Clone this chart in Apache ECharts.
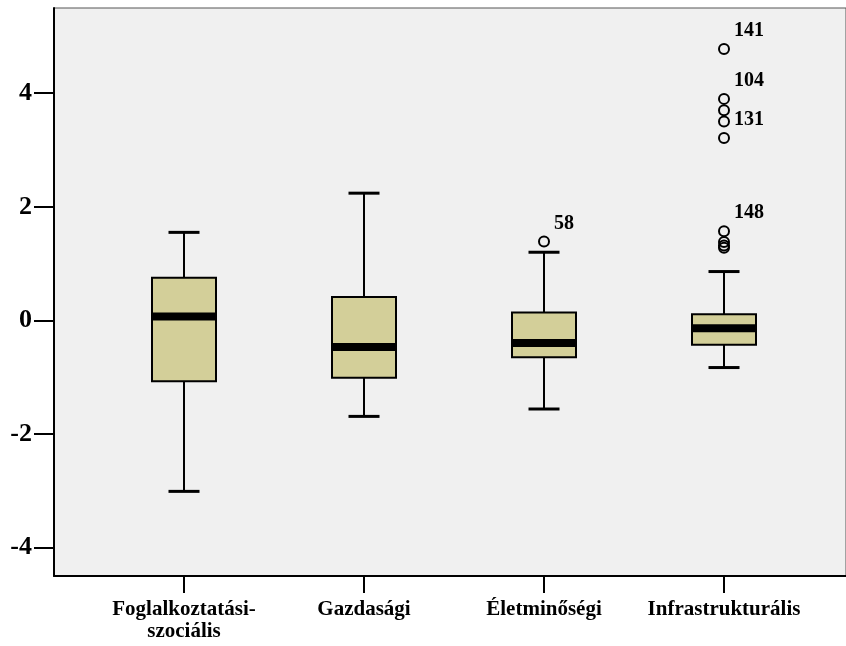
<!DOCTYPE html>
<html>
<head>
<meta charset="utf-8">
<script src="https://cdn.jsdelivr.net/npm/echarts@6/dist/echarts.min.js"></script>
<style>
  html, body { margin: 0; padding: 0; background: #ffffff; }
  #chart { width: 846px; height: 646px; }
</style>
</head>
<body>
<div id="chart"></div>
<script>
// Dimension groups on the horizontal axis
const categories = ['Foglalkoztatási-\nszociális', 'Gazdasági', 'Életminőségi', 'Infrastrukturális'];

// Five-number summaries per group: [min whisker, Q1, median, Q3, max whisker]
const whiskerLow  = [-3.01, -1.69, -1.56, -0.83];
const quartile1   = [-1.07, -1.01, -0.65, -0.43];
const medians     = [ 0.07, -0.47, -0.40, -0.14];
const quartile3   = [ 0.75,  0.41,  0.14,  0.11];
const whiskerHigh = [ 1.55,  2.24,  1.20,  0.86];

// Outlying cases: group index, value, case label ('' = unlabelled)
const outlierGroup  = [2, 3, 3, 3, 3, 3, 3, 3, 3, 3];
const outlierValue  = [1.39, 4.78, 3.90, 3.70, 3.50, 3.21, 1.57, 1.38, 1.32, 1.28];
const outlierLabel  = ['58', '141', '104', '', '', '131', '148', '', '', ''];

// Value-axis tick labels
const yTicks = [-4, -2, 0, 2, 4];

const serif = '"Liberation Serif", "Times New Roman", serif';

const caseLabelStyle = {
  position: 'right', distance: 4, offset: [0, -18],
  color: '#000', opacity: 1, fontFamily: serif, fontWeight: 'bold', fontSize: 20,
  textBorderWidth: 0
};

const boxData = categories.map((c, i) => [i, whiskerLow[i], quartile1[i], medians[i], quartile3[i], whiskerHigh[i]]);
const outlierData = outlierValue.map((v, i) => ({
  value: [outlierGroup[i], v],
  name: outlierLabel[i],
  label: Object.assign({ show: outlierLabel[i] !== '', formatter: outlierLabel[i] }, caseLabelStyle)
}));

function renderBox(params, api) {
  const x = api.value(0);
  const pLow = api.coord([x, api.value(1)]);
  const pQ1 = api.coord([x, api.value(2)]);
  const pMed = api.coord([x, api.value(3)]);
  const pQ3 = api.coord([x, api.value(4)]);
  const pHigh = api.coord([x, api.value(5)]);
  const cx = pMed[0];
  const boxW = 64, capW = 31, medH = 8;
  const line = { stroke: '#000', lineWidth: 2 };
  const cap = { stroke: '#000', lineWidth: 3 };
  return {
    type: 'group',
    children: [
      { type: 'line', shape: { x1: cx, y1: pQ3[1], x2: cx, y2: pHigh[1] }, style: line },
      { type: 'line', shape: { x1: cx, y1: pQ1[1], x2: cx, y2: pLow[1] }, style: line },
      { type: 'line', shape: { x1: cx - capW / 2, y1: pHigh[1], x2: cx + capW / 2, y2: pHigh[1] }, style: cap },
      { type: 'line', shape: { x1: cx - capW / 2, y1: pLow[1], x2: cx + capW / 2, y2: pLow[1] }, style: cap },
      { type: 'rect', shape: { x: cx - boxW / 2, y: pQ3[1], width: boxW, height: pQ1[1] - pQ3[1] },
        style: { fill: '#D3CF99', stroke: '#000', lineWidth: 2 } },
      { type: 'rect', shape: { x: cx - boxW / 2, y: pMed[1] - medH / 2, width: boxW, height: medH },
        style: { fill: '#000' } }
    ]
  };
}

const chart = echarts.init(document.getElementById('chart'), null, { renderer: 'canvas' });
chart.setOption({
  animation: false,
  backgroundColor: '#ffffff',
  grid: [
    { left: 94, top: 8, width: 720, height: 568, show: false },
    { left: 54, top: 8, width: 820, height: 568, show: true, backgroundColor: '#F0F0F0', borderColor: '#555', borderWidth: 1, z: 0 }
  ],
  xAxis: [
    {
      type: 'category', gridIndex: 0, data: categories, boundaryGap: true,
      axisLine: { show: true, onZero: false, lineStyle: { color: '#000', width: 2 } },
      axisTick: { show: true, alignWithLabel: true, length: 17, lineStyle: { color: '#000', width: 2 } },
      axisLabel: { interval: 0, margin: 23, color: '#000', fontFamily: serif, fontWeight: 'bold', fontSize: 21, lineHeight: 22 },
      splitLine: { show: false }
    },
    {
      type: 'value', gridIndex: 1, min: 0, max: 1,
      axisLine: { show: true, onZero: false, lineStyle: { color: '#000', width: 2 } },
      axisTick: { show: false }, axisLabel: { show: false }, splitLine: { show: false }
    }
  ],
  yAxis: [
    { type: 'value', gridIndex: 0, min: -4.5, max: 5.5, show: false },
    {
      type: 'value', gridIndex: 1, min: -4.5, max: 5.5,
      axisLine: { show: true, onZero: false, lineStyle: { color: '#000', width: 2 } },
      axisTick: { show: true, length: 20, customValues: yTicks, lineStyle: { color: '#000', width: 2 } },
      axisLabel: { customValues: yTicks, margin: 22, color: '#000', fontFamily: serif, fontWeight: 'bold', fontSize: 26 },
      splitLine: { show: false }
    }
  ],
  series: [
    {
      type: 'custom', xAxisIndex: 0, yAxisIndex: 0,
      data: boxData,
      encode: { x: 0, y: [1, 2, 3, 4, 5] },
      renderItem: renderBox,
      z: 3
    },
    {
      type: 'scatter', xAxisIndex: 0, yAxisIndex: 0,
      data: outlierData,
      symbol: 'circle', symbolSize: 10,
      itemStyle: { color: 'rgba(0,0,0,0)', borderColor: '#000', borderWidth: 2, opacity: 1 },
      label: caseLabelStyle,
      emphasis: { disabled: true },
      z: 4
    }
  ]
});
</script>
</body>
</html>
